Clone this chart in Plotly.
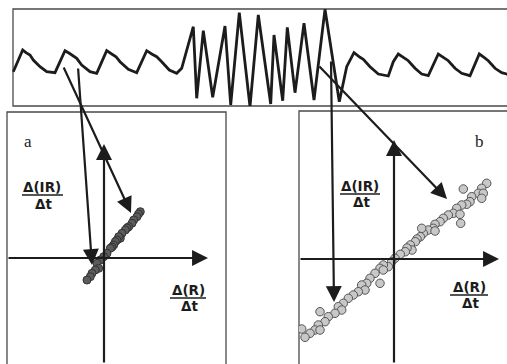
import plotly.graph_objects as go

W, H = 507, 364

# ---------------- data ----------------
# top trace: time (arb.) and signal amplitude (arb.)
wave_t = [13.3, 22.7, 26, 30, 33.3, 40, 46.7, 55, 60, 65, 69.3, 73.3, 76.7, 81.7, 90, 96.7,
          101.7, 106.7, 111.7, 116, 120, 128.3, 136.7, 141.7, 146.7, 151.7, 156.7, 161.7, 169.3,
          176.7, 181.7,
          193.3, 196.7, 203.3, 212.7, 225, 230.7, 239.3, 250, 258.3, 270.7, 274, 282.7, 287.3,
          295, 304, 314, 325, 339.3,
          346.7, 354, 360, 363.3, 370, 378.3, 388.3, 393.3, 398.3, 403.3, 408.3, 415, 421.7,
          428.3, 434, 438.3, 443.3, 448.3, 455, 461.7, 470, 475, 479.3, 484, 488.3, 495, 501.7,
          506.7, 510]
wave_v = [34.3, 56, 53.3, 51, 46, 39.3, 34.3, 33.3, 44.3, 55.3, 52.7, 50, 47.7, 41, 34.3, 32.7,
          44.3, 55.3, 52, 49.3, 44.3, 36.7, 33.3, 44.3, 55.3, 52, 49.3, 44.3, 36,
          32.7, 37.7,
          79.3, 7.7, 75.3, 8.7, 80, 1, 93.3, -0.7, 91, 2, 71, 5.3, 78.7,
          13.3, 82.7, 6, 96.7, 4.3,
          39.3, 53.3, 48.7, 46.7, 39.3, 32, 30, 44.3, 52, 48.7, 45.3, 37.7, 32,
          30.3, 42.7, 52, 48.7, 45.3, 37.7, 32.7, 30.3, 42.7, 52, 48.7, 45.3, 37.7, 33.3,
          32, 30]

# panel a: Δ(R)/Δt vs Δ(IR)/Δt
a_dr = [3.63, 3.45, 3.3, 2.97, 2.8, 2.47, 2.3, 2.13, 1.8, 1.63, 1.47, 1.3, 1.13, 0.97, 0.8,
        0.63, 0.3, -0.03, -0.37, -0.7, -0.53, -0.87, -1.2, -1.37, -1.7]
a_dir = [4.63, 4.4, 4.13, 3.8, 3.47, 3.13, 3.0, 2.8, 2.47, 1.97, 2.13, 1.8, 1.63, 1.3, 1.1,
         0.97, 0.47, 0.13, -0.2, -0.53, -1.03, -1.2, -1.53, -1.87, -2.2]

# panel b
b_dr = [9.27, 8.77, 8.43, 8.93, 8.77, 7.77, 7.6, 6.93, 7.27, 6.77, 6.27, 5.93, 6.6, 6.67, 5.43,
        4.93, 4.6, 4.1, 3.93, 3.43, 4.1, 2.93, 2.77, 2.63, 2.3, 2.13, 1.63, 1.8, 1.3, 1.13, 0.63,
        0.1, -0.23, -0.57, -1.07, -1.4, -1.07, -1.9, -1.4, -2.4, -2.73, -3.23, -2.9, -3.57, -4.07,
        -4.57, -5.07, -5.57, -5.23, -5.9, -6.57, -7.4, -6.9, -7.57, -7.9, -7.4, -8.4, -9.23, -8.9]
b_dir = [7.57, 7.07, 6.57, 6.57, 6.07, 6.23, 5.73, 7.0, 5.47, 5.4, 5.07, 4.57, 4.47, 3.57, 4.4,
         4.07, 3.73, 3.47, 3.07, 2.9, 2.8, 2.57, 3.07, 2.23, 2.0, 1.73, 1.4, 0.9, 1.1, 0.73, 0.47,
         0.07, -0.27, -0.77, -0.6, -0.93, -1.1, -1.43, -2.43, -1.93, -2.43, -2.6, -3.1, -3.27, -3.6,
         -3.93, -4.43, -4.77, -5.1, -5.43, -5.77, -5.27, -6.27, -6.6, -7.1, -7.1, -7.43, -7.0, -7.83]

num_ir = "Δ(IR)"
num_r = "Δ(R)"
den_t = "Δt"

# ---------------- figure ----------------
INK = "#1c1c1c"
BOX = "#4a4a4a"

fig = go.Figure()
fig.add_trace(go.Scatter(x=wave_t, y=wave_v, xaxis="x2", yaxis="y2", mode="lines",
                         line=dict(color=INK, width=2.8), hoverinfo="skip", showlegend=False))
fig.add_trace(go.Scatter(x=a_dr, y=a_dir, xaxis="x3", yaxis="y3", mode="markers",
                         marker=dict(size=8, color="#5c5c5c", line=dict(color="#333333", width=1)),
                         hoverinfo="skip", showlegend=False))
fig.add_trace(go.Scatter(x=b_dr, y=b_dir, xaxis="x4", yaxis="y4", mode="markers",
                         marker=dict(size=8.5, color="#c8c8c8", line=dict(color="#555555", width=1)),
                         hoverinfo="skip", showlegend=False))

hid = dict(visible=False, fixedrange=True)
fig.update_layout(
    width=W, height=H, margin=dict(l=0, r=0, t=0, b=0),
    paper_bgcolor="white", plot_bgcolor="rgba(0,0,0,0)",
    xaxis=dict(range=[0, W], domain=[0, 1], **hid),
    yaxis=dict(range=[H, 0], domain=[0, 1], **hid),
    xaxis2=dict(range=[0, W], domain=[0, 1], anchor="y2", **hid),
    yaxis2=dict(range=[0, 106], domain=[(H - 106) / H, 1], anchor="x2", **hid),
    xaxis3=dict(range=[-9.7, 12.2], domain=[7 / W, 226 / W], anchor="y3", **hid),
    yaxis3=dict(range=[-10.6, 14.6], domain=[0, 252 / H], anchor="x3", **hid),
    xaxis4=dict(range=[-9.5, 11.3], domain=[299 / W, 1], anchor="y4", **hid),
    yaxis4=dict(range=[-10.5, 14.8], domain=[0, 253 / H], anchor="x4", **hid),
)

# frames
shapes = []
for (x0, y0, x1, y1) in [(13, 9, 512, 106), (7, 112, 226, 370), (299, 111, 512, 370)]:
    shapes.append(dict(type="rect", xref="x", yref="y", x0=x0, y0=y0, x1=x1, y1=y1,
                       line=dict(color=BOX, width=1.3), fillcolor="rgba(0,0,0,0)", layer="below"))
# fraction bars
for (x0, x1, y) in [(22, 63, 195), (170, 206, 298), (340, 380, 194), (450, 488, 295)]:
    shapes.append(dict(type="line", xref="x", yref="y", x0=x0, x1=x1, y0=y, y1=y,
                       line=dict(color=INK, width=1.6)))
fig.update_layout(shapes=shapes)

ann = []
def arrow(xr, yr, x, y, ax, ay, w=2.2):
    ann.append(dict(xref=xr, yref=yr, axref=xr, ayref=yr, x=x, y=y, ax=ax, ay=ay, text="",
                    showarrow=True, arrowhead=2, arrowsize=1.45, arrowwidth=w,
                    arrowcolor=INK, standoff=0, startstandoff=0))

# panel axes
arrow("x3", "y3", 10.4, 0, -9.7, 0)
arrow("x3", "y3", 0, 11.4, 0, -10.6)
arrow("x4", "y4", 10.5, 0, -9.5, 0)
arrow("x4", "y4", 0, 11.9, 0, -10.5)
# pointers from the trace to the plots
arrow("x", "y", 131, 213, 63, 66)
arrow("x", "y", 92, 265, 78, 67)
arrow("x", "y", 334, 302, 331, 60)
arrow("x", "y", 447, 199, 318, 65)

def label(x, y, t, serif=False):
    if serif:
        f = dict(family="Liberation Serif, Times New Roman, serif", size=17, color=INK)
    else:
        f = dict(family="DejaVu Sans, sans-serif", size=13.5, color=INK)
        t = "<b>" + t + "</b>"
    ann.append(dict(xref="x", yref="y", x=x, y=y, text=t, showarrow=False,
                    xanchor="center", yanchor="middle", font=f))

label(28, 141, "a", serif=True)
label(479, 141, "b", serif=True)
label(42, 187, num_ir); label(43, 204, den_t)
label(188, 290, num_r); label(189, 306, den_t)
label(360, 186, num_ir); label(361, 202, den_t)
label(469, 287, num_r); label(470, 303, den_t)

fig.update_layout(annotations=ann)
fig.write_html("out.html")
